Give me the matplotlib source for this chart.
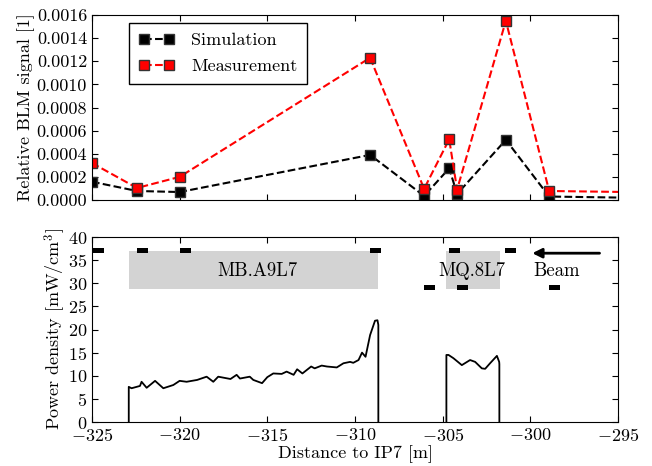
import numpy as np
import matplotlib
matplotlib.use('Agg')
import matplotlib.pyplot as plt
from matplotlib.ticker import FuncFormatter

plt.rcParams['font.family'] = 'serif'
plt.rcParams['font.serif'] = ['cmr10']
plt.rcParams['mathtext.fontset'] = 'cm'
plt.rcParams['axes.formatter.use_mathtext'] = True
plt.rcParams['axes.unicode_minus'] = True
plt.rcParams['xtick.direction'] = 'in'
plt.rcParams['ytick.direction'] = 'in'
plt.rcParams['xtick.top'] = True
plt.rcParams['ytick.right'] = True
plt.rcParams['xtick.major.size'] = 4
plt.rcParams['ytick.major.size'] = 4
plt.rcParams['font.size'] = 13

# BLM positions [m] and relative signals
blm_pos = [-325.0, -322.43, -320.0, -309.14, -306.06, -304.63, -304.18, -301.4, -298.93, -290.0]
simulation = [0.000158, 0.000078, 0.000069, 0.00039, 0.000035, 0.000274, 0.000052, 0.00052, 0.00003, 0.00001]
measurement = [0.00032, 0.000104, 0.0002, 0.00123, 0.000097, 0.000525, 0.00009, 0.00155, 0.000078, 0.00006]

# BLM symbols in lower panel (upper row / lower row)
blm_upper = [-324.94, -322.43, -320.0, -309.14, -304.66, -301.44]
blm_lower = [-306.06, -304.18, -298.93]

# magnets
magnet_names = ['MB.A9L7', 'MQ.8L7']
magnet_start = [-322.9, -304.8]
magnet_end = [-308.67, -301.75]

# power density profile (NaN separates the two magnets)
pd_x = [-322.9, -322.9, -322.74, -322.26, -322.17, -321.88, -321.4, -320.93, -320.36, -320.0,
        -319.6, -319.0, -318.46, -318.08, -317.8, -317.1, -316.75, -316.56, -316.0, -315.8,
        -315.3, -315.0, -314.66, -314.18, -313.9, -313.5, -313.3, -313.0, -312.5, -312.3,
        -311.9, -311.6, -311.04, -310.66, -310.28, -310.1, -309.8, -309.6, -309.4, -309.14,
        -308.86, -308.72, -308.67, -308.67, np.nan,
        -304.79, -304.79, -304.67, -304.39, -303.91, -303.44, -303.15, -302.77, -302.58, -302.3,
        -301.91, -301.78, -301.77, -301.77]
pd_y = [0, 7.6, 7.3, 7.8, 8.7, 7.4, 8.9, 7.3, 8.0, 8.9,
        8.7, 9.1, 9.8, 8.7, 9.8, 9.3, 10.2, 9.4, 9.8, 9.1,
        8.4, 9.7, 10.5, 10.4, 10.9, 10.2, 11.4, 10.5, 12.0, 11.6,
        12.2, 12.0, 11.8, 12.7, 13.0, 12.8, 13.4, 15.0, 14.1, 18.8,
        21.9, 22.0, 21.0, 0, np.nan,
        0, 14.5, 14.5, 13.8, 12.3, 13.4, 13.0, 11.6, 11.5, 12.7,
        14.3, 13.0, 12.5, 0]

fig = plt.figure(figsize=(6.52, 4.66), dpi=100)
ax1 = fig.add_axes([0.141, 0.5708, 0.807, 0.397])
ax2 = fig.add_axes([0.141, 0.0944, 0.807, 0.397])

ax1.plot(blm_pos, simulation, 'k--', marker='s', markersize=7, markerfacecolor='k',
         markeredgecolor='#333333', label='Simulation')
ax1.plot(blm_pos, measurement, 'r--', marker='s', markersize=7, markerfacecolor='red',
         markeredgecolor='#333333', label='Measurement')
ax1.set_xlim(-325, -295)
ax1.set_ylim(0, 0.0016)
ax1.set_xticks(np.arange(-325, -294, 5))
ax1.set_xticklabels([])
ax1.set_yticks(np.arange(0, 0.00161, 0.0002))
ax1.yaxis.set_major_formatter(FuncFormatter(lambda v, p: '%.4f' % v))
ax1.set_ylabel('Relative BLM signal [1]', labelpad=1)
leg = ax1.legend(loc='upper left', bbox_to_anchor=(0.07, 0.958), numpoints=2,
                 fancybox=False, edgecolor='k', framealpha=1, fontsize=13,
                 handlelength=2.0, handletextpad=0.9, borderpad=0.55, labelspacing=0.55,
                 borderaxespad=0)
leg.get_frame().set_linewidth(1.0)

# magnets
for name, s, e in zip(magnet_names, magnet_start, magnet_end):
    ax2.bar(s, 37 - 28.8, width=e - s, bottom=28.8, align='edge', color='#d3d3d3', zorder=1)
ax2.text(-315.56, 32.6, 'MB.A9L7', ha='center', va='center', fontsize=13.5)
ax2.text(-303.36, 32.6, 'MQ.8L7', ha='center', va='center', fontsize=13.5)
ax2.text(-298.5, 32.6, 'Beam', ha='center', va='center', fontsize=13.5)
ax2.annotate('', xy=(-300.05, 36.5), xytext=(-295.9, 36.5),
             arrowprops=dict(arrowstyle='-|>', lw=2, color='k', mutation_scale=14))

ax2.bar(blm_upper, 1.1, width=0.63, bottom=36.45, align='edge', color='k', zorder=3)
ax2.bar(blm_lower, 1.1, width=0.63, bottom=28.45, align='edge', color='k', zorder=3)

ax2.plot(pd_x, pd_y, 'k-', lw=1.3, zorder=4)
ax2.set_xlim(-325, -295)
ax2.set_ylim(0, 40)
ax2.set_xticks(np.arange(-325, -294, 5))
ax2.set_yticks(np.arange(0, 41, 5))
ax2.set_xlabel('Distance to IP7 [m]', labelpad=1)
ax2.set_ylabel('Power density [mW/cm$^3$]', labelpad=0)

fig.savefig('out.png', dpi=100)
